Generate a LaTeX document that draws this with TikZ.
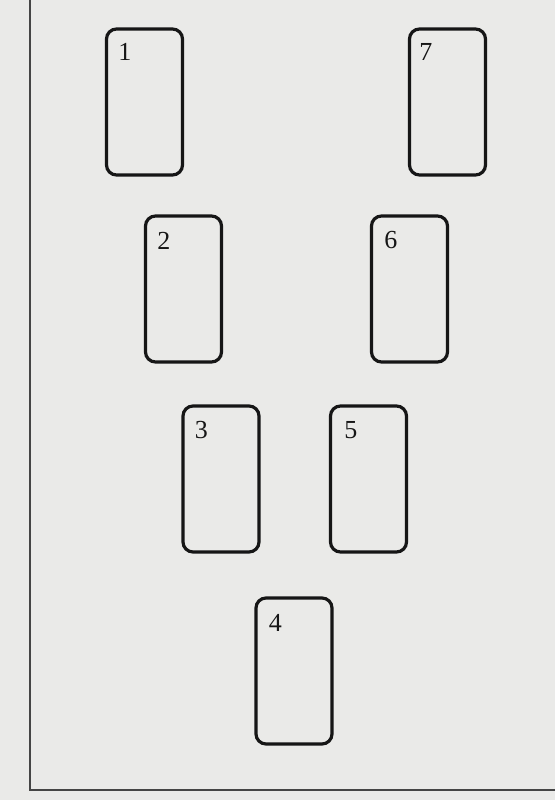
\documentclass[tikz,border=0pt]{standalone}
\usepackage{fontspec}
\setmainfont{Liberation Serif}
\usepackage{xcolor}
\usepackage{tikz}
\definecolor{paper}{RGB}{234,234,232}
\definecolor{ink}{RGB}{22,22,22}
\tikzset{
  card/.style={draw=ink, line width=3.2pt, rounded corners=10pt, rectangle,
    minimum width=76pt, minimum height=146pt, inner sep=0pt},
  cardnum/.style={font=\fontsize{26}{28}\selectfont, text=ink, anchor=center},
  rule/.style={draw=ink!80, line width=1.1pt}
}

\begin{document}
\begin{tikzpicture}[x=1pt, y=-1pt]
    \fill[paper] (0,0) rectangle (555,800);
    \useasboundingbox (0,0) rectangle (555,800);
    % page margin rules
    \coordinate (top) at (30,0);
    \coordinate (corner) at (30,790);
    \coordinate (right) at (555,790);
    \draw[rule] (top) -- (corner) -- (right);
    % cards, laid out in a V
    \node[card] (card1) at (144.5,102) {};
    \node[card] (card2) at (183.5,289) {};
    \node[card] (card3) at (221,479) {};
    \node[card] (card4) at (294,671) {};
    \node[card] (card5) at (368.5,479) {};
    \node[card] (card6) at (409.5,289) {};
    \node[card] (card7) at (447.5,102) {};
    % numbers near the upper left corner
    \node[cardnum] (num1) at ([shift={(20,25)}]card1.north west) {1};
    \node[cardnum] (num2) at ([shift={(20,26)}]card2.north west) {2};
    \node[cardnum] (num3) at ([shift={(20,26)}]card3.north west) {3};
    \node[cardnum] (num4) at ([shift={(21,27)}]card4.north west) {4};
    \node[cardnum] (num5) at ([shift={(22,26)}]card5.north west) {5};
    \node[cardnum] (num6) at ([shift={(21,26)}]card6.north west) {6};
    \node[cardnum] (num7) at ([shift={(18,25)}]card7.north west) {7};
\end{tikzpicture}
\end{document}
